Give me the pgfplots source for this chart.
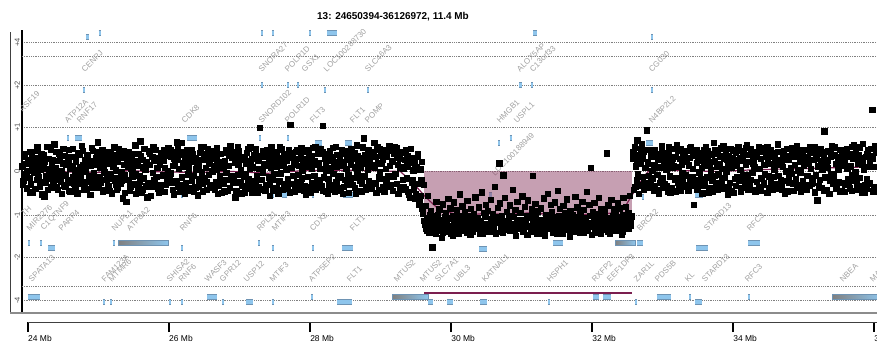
\documentclass[border=0pt]{standalone}
\usepackage{pgfplots}
\usepackage{pgfplotstable}
\pgfplotsset{compat=1.18}
\usepackage{fontspec}
\setmainfont{Liberation Sans}
\definecolor{genefill}{HTML}{8EC5EC}
\definecolor{geneedge}{HTML}{6E93B3}
\definecolor{lblgray}{HTML}{A0A0A0}
\definecolor{segline}{HTML}{7B1E4F}
\definecolor{cnvpink}{HTML}{8E4066}
\definecolor{gridgray}{HTML}{808080}
\pgfplotstableread{
x y
24.82 3.057
24.86 3.057
nan nan
25.00 3.148
25.03 3.148
nan nan
27.305 3.148
27.335 3.148
nan nan
27.46 3.148
27.49 3.148
nan nan
27.99 3.148
28.02 3.148
nan nan
28.24 3.148
28.38 3.148
nan nan
31.165 3.148
31.22 3.148
nan nan
32.84 3.057
32.865 3.057
nan nan
24.78 1.852
24.81 1.852
nan nan
27.305 1.966
27.335 1.966
nan nan
27.675 1.966
27.705 1.966
nan nan
27.815 1.966
27.845 1.966
nan nan
28.195 1.852
28.225 1.852
nan nan
28.81 1.852
28.84 1.852
nan nan
30.96 1.966
31.00 1.966
nan nan
31.135 1.966
31.165 1.966
nan nan
32.84 1.852
32.865 1.852
nan nan
24.555 0.761
24.585 0.761
nan nan
24.67 0.761
24.77 0.761
nan nan
26.255 0.761
26.40 0.761
nan nan
27.275 0.761
27.305 0.761
nan nan
27.675 0.761
27.705 0.761
nan nan
28.07 0.648
28.17 0.648
nan nan
28.495 0.648
28.595 0.648
nan nan
30.665 0.648
30.695 0.648
nan nan
30.83 0.761
30.87 0.761
nan nan
32.765 0.648
32.865 0.648
nan nan
24.44 -0.443
24.47 -0.443
nan nan
26.17 -0.534
26.20 -0.534
nan nan
27.275 -0.443
27.305 -0.443
nan nan
27.46 -0.534
27.49 -0.534
nan nan
27.60 -0.534
27.67 -0.534
nan nan
28.03 -0.534
28.06 -0.534
nan nan
28.47 -0.534
28.61 -0.534
nan nan
30.535 -0.534
30.575 -0.534
nan nan
32.71 -0.58
32.74 -0.58
nan nan
33.46 -0.534
33.575 -0.534
nan nan
24.00 -1.625
24.03 -1.625
nan nan
24.17 -1.625
24.20 -1.625
nan nan
24.285 -1.739
24.385 -1.739
nan nan
25.20 -1.625
25.24 -1.625
nan nan
26.17 -1.739
26.20 -1.739
nan nan
27.26 -1.625
27.29 -1.625
nan nan
27.46 -1.739
27.49 -1.739
nan nan
28.03 -1.739
28.06 -1.739
nan nan
28.455 -1.739
28.61 -1.739
nan nan
30.40 -1.76
30.51 -1.76
nan nan
31.45 -1.625
31.59 -1.625
nan nan
32.64 -1.625
32.725 -1.625
nan nan
33.475 -1.739
33.645 -1.739
nan nan
34.215 -1.625
34.385 -1.625
nan nan
24.00 -2.852
24.17 -2.852
nan nan
25.065 -2.966
25.095 -2.966
nan nan
25.165 -2.966
25.195 -2.966
nan nan
26.00 -2.966
26.03 -2.966
nan nan
26.17 -2.966
26.20 -2.966
nan nan
26.54 -2.852
26.68 -2.852
nan nan
26.75 -2.966
26.78 -2.966
nan nan
27.09 -2.966
27.19 -2.966
nan nan
27.46 -2.966
27.49 -2.966
nan nan
28.015 -2.852
28.04 -2.852
nan nan
28.385 -2.966
28.595 -2.966
nan nan
29.675 -2.966
29.745 -2.966
nan nan
29.945 -2.966
30.03 -2.966
nan nan
30.41 -2.966
30.51 -2.966
nan nan
31.375 -2.966
31.405 -2.966
nan nan
32.015 -2.852
32.10 -2.852
nan nan
32.155 -2.852
32.27 -2.852
nan nan
32.61 -2.966
32.64 -2.966
nan nan
32.92 -2.852
33.12 -2.852
nan nan
33.375 -2.852
33.405 -2.852
nan nan
33.46 -2.966
33.56 -2.966
nan nan
34.21 -2.852
34.24 -2.852
}\genes
\begin{document}
\begin{tikzpicture}[
  lbl/.style={font=\fontsize{8}{9}\selectfont, text=lblgray, rotate=45, anchor=south west, inner sep=0.4pt}]
\useasboundingbox (0,0) rectangle (877bp,352bp);
\node[font=\bfseries\fontsize{10}{12}\selectfont, anchor=base] at (393bp,332bp) {13: 24650394-36126972, 11.4 Mb};
\begin{axis}[
  at={(22bp,39bp)}, anchor=south west, scale only axis,
  width=855bp, height=283bp,
  xmin=23.915, xmax=36.04, ymin=-3.216, ymax=3.216,
  axis x line=none, axis y line=left,
  y axis line style={-, line width=1.5bp, black},
  ytick={-2.93,-1.955,-1,0,1,1.955,2.93},
  yticklabels={-4,-2,-1,0,+1,+2,+4},
  extra y ticks={-2.61,2.61}, extra y tick labels={},
  ymajorgrids, extra y tick style={grid=major},
  grid style={gridgray, line width=0.6bp, dash pattern=on 0.9bp off 0.9bp},
  major tick length=0pt,
  yticklabel style={rotate=90, anchor=south, font=\fontsize{7.5}{8}\selectfont, text=black!70, inner sep=2pt},
  unbounded coords=jump,
]
% gene bars
\addplot[geneedge, line width=5.2bp, mark=none] table {\genes};
\addplot[genefill, line width=3.6bp, mark=none] table {\genes};
\addplot[draw=geneedge, line width=0.5bp, left color=black!50, right color=genefill] coordinates {(25.277,-1.568)(25.986,-1.568)(25.986,-1.682)(25.277,-1.682)} --cycle;
\addplot[draw=geneedge, line width=0.5bp, left color=black!50, right color=genefill] coordinates {(32.326,-1.568)(32.61,-1.568)(32.61,-1.682)(32.326,-1.682)} --cycle;
\addplot[draw=geneedge, line width=0.5bp, left color=black!50, right color=genefill] coordinates {(29.163,-2.795)(29.674,-2.795)(29.674,-2.909)(29.163,-2.909)} --cycle;
\addplot[draw=geneedge, line width=0.5bp, left color=black!50, right color=genefill] coordinates {(35.404,-2.795)(36.1,-2.795)(36.1,-2.909)(35.404,-2.909)} --cycle;
% CNV segment marker
\addplot[segline, line width=1.4bp, mark=none] coordinates {(29.617,-2.761)(32.567,-2.761)};
% gene labels
\node[lbl] at (axis cs:24.809,2.239) {CENPJ};
\node[lbl] at (axis cs:27.319,2.239) {SNORA27};
\node[lbl] at (axis cs:27.688,2.239) {POLR1D};
\node[lbl] at (axis cs:27.929,2.239) {GSX1};
\node[lbl] at (axis cs:28.241,2.239) {LOC100288730};
\node[lbl] at (axis cs:28.823,2.239) {SLC46A3};
\node[lbl] at (axis cs:30.979,2.239) {ALOX5AP};
\node[lbl] at (axis cs:31.163,2.239) {C13orf33};
\node[lbl] at (axis cs:32.851,2.239) {CG030};
\node[lbl] at (axis cs:23.77,1.08) {TNFRSF19};
\node[lbl] at (axis cs:24.567,1.08) {ATP12A};
\node[lbl] at (axis cs:24.738,1.08) {RNF17};
\node[lbl] at (axis cs:26.227,1.08) {CDK8};
\node[lbl] at (axis cs:27.319,1.08) {SNORD102};
\node[lbl] at (axis cs:27.688,1.08) {POLR1D};
\node[lbl] at (axis cs:28.043,1.08) {FLT3};
\node[lbl] at (axis cs:28.61,1.08) {FLT1};
\node[lbl] at (axis cs:28.823,1.08) {POMP};
\node[lbl] at (axis cs:30.695,1.08) {HMGB1};
\node[lbl] at (axis cs:30.936,1.08) {USPL1};
\node[lbl] at (axis cs:32.851,1.08) {N4BP2L2};
\node[lbl] at (axis cs:30.624,-0.125) {LOC100188949};
\node[lbl] at (axis cs:23.95,-1.05) {TH};
\node[lbl] at (axis cs:24.028,-1.375) {MIR2276};
\node[lbl] at (axis cs:24.241,-1.375) {C1QTNF9};
\node[lbl] at (axis cs:24.482,-1.375) {PARP4};
\node[lbl] at (axis cs:25.234,-1.375) {NUPL1};
\node[lbl] at (axis cs:25.447,-1.375) {ATP8A2};
\node[lbl] at (axis cs:26.199,-1.375) {RNF6};
\node[lbl] at (axis cs:27.291,-1.375) {RPL21};
\node[lbl] at (axis cs:27.504,-1.375) {MTIF3};
\node[lbl] at (axis cs:28.043,-1.375) {CDX2};
\node[lbl] at (axis cs:28.61,-1.375) {FLT1};
\node[lbl] at (axis cs:32.681,-1.375) {BRCA2};
\node[lbl] at (axis cs:33.631,-1.375) {STARD13};
\node[lbl] at (axis cs:34.241,-1.375) {RFC3};
\node[lbl] at (axis cs:24.057,-2.534) {SPATA13};
\node[lbl] at (axis cs:25.092,-2.534) {FAM123A};
\node[lbl] at (axis cs:25.191,-2.534) {MTMR6};
\node[lbl] at (axis cs:26.014,-2.534) {SHISA2};
\node[lbl] at (axis cs:26.184,-2.534) {RNF6};
\node[lbl] at (axis cs:26.553,-2.534) {WASF3};
\node[lbl] at (axis cs:26.766,-2.534) {GPR12};
\node[lbl] at (axis cs:27.106,-2.534) {USP12};
\node[lbl] at (axis cs:27.475,-2.534) {MTIF3};
\node[lbl] at (axis cs:28.028,-2.534) {ATP5EP2};
\node[lbl] at (axis cs:28.567,-2.534) {FLT1};
\node[lbl] at (axis cs:29.234,-2.534) {MTUS2};
\node[lbl] at (axis cs:29.603,-2.534) {MTUS2};
\node[lbl] at (axis cs:29.816,-2.534) {SLC7A1};
\node[lbl] at (axis cs:30.085,-2.534) {UBL3};
\node[lbl] at (axis cs:30.482,-2.534) {KATNAL1};
\node[lbl] at (axis cs:31.404,-2.534) {HSPH1};
\node[lbl] at (axis cs:32.043,-2.534) {RXFP2};
\node[lbl] at (axis cs:32.255,-2.534) {EEF1DP3};
\node[lbl] at (axis cs:32.638,-2.534) {ZAR1L};
\node[lbl] at (axis cs:32.936,-2.534) {PDS5B};
\node[lbl] at (axis cs:33.362,-2.534) {KL};
\node[lbl] at (axis cs:33.603,-2.534) {STARD13};
\node[lbl] at (axis cs:34.213,-2.534) {RFC3};
\node[lbl] at (axis cs:35.56,-2.534) {NBEA};
\node[lbl] at (axis cs:35.986,-2.534) {MAB21L1};
% probes
\addplot[only marks, mark=square*, mark size=2.7bp, black] coordinates {
(23.92,0.12)(23.93,-0.21)(23.94,0.34)(23.96,-0.05)(23.97,0.18)(23.98,-0.38)(23.99,0.02)(24.01,0.27)(24.02,-0.14)(24.03,0.45)(24.04,-0.29)(24.06,0.08)
(24.07,-0.47)(24.08,0.21)(24.09,-0.02)(24.11,0.31)(24.12,-0.18)(24.13,0.55)(24.14,-0.09)(24.16,0.14)(24.17,-0.33)(24.18,0.04)(24.19,0.39)(24.21,-0.24)
(24.22,0.11)(24.23,-0.56)(24.24,0.23)(24.26,-0.11)(24.27,0.06)(24.28,-0.41)(24.29,0.29)(24.31,-0.16)(24.32,0.49)(24.33,-0.07)(24.34,0.17)(24.36,-0.27)
(24.37,0.62)(24.38,-0.03)(24.39,0.09)(24.41,-0.36)(24.42,0.25)(24.43,-0.12)(24.44,0.41)(24.46,-0.22)(24.47,0.01)(24.48,-0.51)(24.49,0.19)(24.51,-0.31)
(24.52,0.36)(24.53,-0.08)(24.54,0.15)(24.56,-0.19)(24.57,0.28)(24.58,-0.44)(24.59,0.07)(24.61,0.33)(24.62,-0.26)(24.63,0.52)(24.64,-0.13)(24.66,0.03)
(24.67,-0.35)(24.68,0.22)(24.69,-0.06)(24.71,0.43)(24.72,-0.17)(24.73,0.10)(24.74,-0.28)(24.76,0.58)(24.77,-0.01)(24.78,0.16)(24.79,-0.42)(24.81,0.26)
(24.82,0.05)(24.83,-0.23)(24.84,0.38)(24.86,-0.10)(24.87,0.20)(24.88,-0.53)(24.89,0.13)(24.91,-0.30)(24.92,0.47)(24.93,-0.04)(24.94,0.24)(24.96,-0.15)
(24.97,0.30)(24.98,-0.37)(24.99,0.67)(25.01,-0.12)(25.02,0.08)(25.03,-0.25)(25.04,0.35)(25.06,-0.45)(25.07,0.14)(25.08,-0.02)(25.09,0.28)(25.11,-0.19)
(25.12,-0.09)(25.13,0.44)(25.14,-0.32)(25.16,0.18)(25.17,-0.06)(25.18,0.26)(25.19,-0.49)(25.21,0.11)(25.22,0.37)(25.23,-0.21)(25.24,0.03)(25.26,-0.40)
(25.27,0.23)(25.28,-0.14)(25.29,0.51)(25.31,-0.27)(25.32,0.00)(25.33,0.32)(25.34,-0.61)(25.36,0.16)(25.37,-0.08)(25.38,0.41)(25.39,-0.69)(25.41,0.12)
(25.42,-0.18)(25.43,0.29)(25.44,-0.43)(25.46,0.07)(25.47,0.35)(25.48,-0.11)(25.49,0.19)(25.51,-0.29)(25.52,0.60)(25.53,-0.05)(25.54,0.13)(25.56,-0.38)
(25.57,0.40)(25.58,-0.22)(25.59,0.69)(25.61,-0.48)(25.62,0.27)(25.63,0.10)(25.64,-0.15)(25.66,0.04)(25.67,-0.33)(25.68,0.21)(25.69,-0.58)(25.71,0.46)
(25.72,-0.26)(25.73,0.15)(25.74,-0.55)(25.76,0.34)(25.77,-0.03)(25.78,0.24)(25.79,-0.19)(25.81,0.50)(25.82,-0.12)(25.83,0.08)(25.84,-0.39)(25.86,0.30)
(25.87,0.17)(25.88,-0.31)(25.89,0.42)(25.91,-0.08)(25.92,0.26)(25.93,-0.46)(25.94,0.09)(25.96,0.36)(25.97,-0.20)(25.98,0.02)(25.99,0.53)(26.01,-0.16)
(26.02,-0.04)(26.03,0.33)(26.04,-0.24)(26.06,0.13)(26.07,-0.52)(26.08,0.21)(26.09,0.45)(26.11,0.67)(26.12,0.28)(26.13,-0.35)(26.14,0.06)(26.16,0.38)
(26.17,0.65)(26.18,-0.13)(26.19,0.20)(26.21,-0.40)(26.22,0.11)(26.23,0.31)(26.24,-0.27)(26.26,0.48)(26.27,-0.06)(26.28,0.18)(26.29,-0.44)(26.31,0.25)
(26.32,-0.21)(26.33,0.39)(26.34,-0.09)(26.36,0.23)(26.37,-0.36)(26.38,0.05)(26.39,-0.34)(26.41,-0.54)(26.42,0.14)(26.43,-0.17)(26.44,0.43)(26.46,-0.02)
(26.47,0.27)(26.48,-0.28)(26.49,0.56)(26.51,-0.15)(26.52,0.09)(26.53,-0.42)(26.54,0.34)(26.56,-0.07)(26.57,0.19)(26.58,-0.30)(26.59,0.47)(26.61,0.01)
(26.62,-0.33)(26.63,0.12)(26.64,0.37)(26.66,-0.23)(26.67,0.04)(26.68,0.28)(26.69,-0.50)(26.71,0.16)(26.72,-0.11)(26.73,0.40)(26.74,-0.19)(26.76,0.22)
(26.77,0.08)(26.78,-0.45)(26.79,0.25)(26.81,-0.03)(26.82,0.44)(26.83,-0.18)(26.84,0.13)(26.86,-0.37)(26.87,0.59)(26.88,-0.09)(26.89,0.32)(26.91,-0.26)
(26.92,-0.14)(26.93,0.20)(26.94,-0.58)(26.96,0.35)(26.97,-0.07)(26.98,0.15)(26.99,0.46)(27.01,-0.24)(27.02,0.03)(27.03,-0.32)(27.04,0.27)(27.06,-0.12)
(27.07,0.31)(27.08,-0.06)(27.09,0.18)(27.11,-0.39)(27.12,0.52)(27.13,-0.16)(27.14,0.07)(27.16,0.24)(27.17,-0.47)(27.18,0.10)(27.19,-0.21)(27.21,0.38)
(27.22,-0.25)(27.23,0.43)(27.24,-0.11)(27.26,0.26)(27.27,-0.34)(27.28,0.06)(27.29,0.99)(27.31,-0.19)(27.32,0.35)(27.33,-0.02)(27.34,0.17)(27.36,-0.43)
(27.37,0.14)(27.38,-0.30)(27.39,0.48)(27.41,-0.13)(27.42,0.22)(27.43,-0.55)(27.44,0.09)(27.46,0.40)(27.47,-0.18)(27.48,0.29)(27.49,-0.05)(27.51,0.33)
(27.52,-0.37)(27.53,0.11)(27.54,0.27)(27.56,-0.22)(27.57,0.57)(27.58,-0.04)(27.59,0.19)(27.61,-0.41)(27.62,0.13)(27.63,0.36)(27.64,-0.28)(27.66,0.05)
(27.67,0.24)(27.68,-0.16)(27.69,0.32)(27.71,-0.48)(27.72,1.06)(27.73,0.08)(27.74,0.42)(27.76,-0.10)(27.77,0.21)(27.78,-0.35)(27.79,0.15)(27.81,-0.23)
(27.82,0.50)(27.83,-0.07)(27.84,0.13)(27.86,-0.29)(27.87,0.37)(27.88,-0.15)(27.89,0.03)(27.91,-0.44)(27.92,0.28)(27.93,0.18)(27.94,-0.52)(27.96,0.11)
(27.97,-0.12)(27.98,0.34)(27.99,-0.36)(28.01,0.20)(28.02,0.06)(28.03,-0.26)(28.04,0.54)(28.06,-0.09)(28.07,0.25)(28.08,-0.40)(28.09,0.16)(28.11,0.41)
(28.12,0.19)(28.13,-0.20)(28.14,0.07)(28.16,-0.33)(28.17,0.45)(28.18,1.04)(28.19,-0.13)(28.21,0.29)(28.22,-0.46)(28.23,0.02)(28.24,0.38)(28.26,-0.17)
(28.27,-0.31)(28.28,0.26)(28.29,0.09)(28.31,-0.42)(28.32,0.33)(28.33,-0.05)(28.34,0.21)(28.36,0.56)(28.37,-0.24)(28.38,0.12)(28.39,-0.38)(28.41,0.17)
(28.42,0.35)(28.43,-0.10)(28.44,0.22)(28.46,-0.50)(28.47,0.14)(28.48,0.40)(28.49,-0.19)(28.51,0.06)(28.52,-0.29)(28.53,0.47)(28.54,-0.08)(28.56,0.28)
(28.57,-0.23)(28.58,0.16)(28.59,0.44)(28.61,-0.14)(28.62,0.29)(28.63,-0.37)(28.64,0.10)(28.66,0.60)(28.67,-0.05)(28.68,0.23)(28.69,-0.45)(28.71,0.13)
(28.72,0.08)(28.73,-0.27)(28.74,0.31)(28.76,0.76)(28.77,-0.11)(28.78,0.19)(28.79,-0.40)(28.81,0.38)(28.82,0.04)(28.83,-0.21)(28.84,0.26)(28.86,-0.33)
(28.87,0.42)(28.88,-0.25)(28.89,0.15)(28.91,0.65)(28.92,0.09)(28.93,0.33)(28.94,-0.48)(28.96,0.20)(28.97,-0.13)(28.98,0.51)(28.99,-0.02)(29.01,0.18)
(29.02,-0.17)(29.03,0.28)(29.04,-0.35)(29.06,0.46)(29.07,0.07)(29.08,-0.22)(29.09,0.35)(29.11,-0.09)(29.12,0.58)(29.13,0.13)(29.14,-0.30)(29.16,0.22)
(29.17,0.25)(29.18,-0.12)(29.19,0.40)(29.21,-0.05)(29.22,0.53)(29.23,-0.28)(29.24,0.16)(29.26,0.32)(29.27,-0.41)(29.28,0.10)(29.29,0.44)(29.31,-0.18)
(29.32,0.06)(29.33,-0.34)(29.34,0.27)(29.36,0.49)(29.37,-0.15)(29.38,0.12)(29.39,-0.46)(29.41,0.20)(29.42,-0.60)(29.43,0.31)(29.44,-0.25)(29.46,0.03)
(29.47,-0.40)(29.48,0.18)(29.49,-0.62)(29.51,0.10)(29.52,-0.28)(29.53,0.35)(29.54,-0.75)(29.56,0.05)(29.57,-0.55)(29.58,0.22)(29.59,-0.85)(29.61,-0.30)
(29.62,-1.12)(29.63,-0.78)(29.64,-1.30)(29.66,-1.05)(29.67,-0.55)(29.68,-1.22)(29.69,-1.38)(29.71,-0.90)(29.72,-1.15)(29.73,-1.72)(29.74,-1.02)(29.76,-1.27)
(29.77,-1.18)(29.78,-1.40)(29.79,-0.68)(29.81,-1.08)(29.82,-1.25)(29.83,-0.86)(29.84,-1.33)(29.86,-1.10)(29.87,-1.50)(29.88,-0.74)(29.89,-1.20)(29.91,-1.04)
(29.92,-0.95)(29.93,-1.28)(29.94,-1.14)(29.96,-0.62)(29.97,-1.36)(29.98,-1.06)(29.99,-0.83)(30.01,-1.24)(30.02,-1.45)(30.03,-1.00)(30.04,-0.70)(30.06,-1.19)
(30.07,-1.31)(30.08,-0.88)(30.09,-1.09)(30.11,-1.42)(30.12,-0.52)(30.13,-1.17)(30.14,-1.26)(30.16,-0.79)(30.17,-1.03)(30.18,-1.35)(30.19,-0.92)(30.21,-1.21)
(30.22,-1.13)(30.23,-0.66)(30.24,-1.29)(30.26,-1.01)(30.27,-1.44)(30.28,-0.85)(30.29,-1.16)(30.31,-1.37)(30.32,-0.97)(30.33,-1.23)(30.34,-0.58)(30.36,-1.07)
(30.37,-1.26)(30.38,-1.05)(30.39,-0.81)(30.41,-1.33)(30.42,-1.12)(30.43,-0.47)(30.44,-1.40)(30.46,-0.93)(30.47,-1.19)(30.48,-1.02)(30.49,-0.75)(30.51,-1.30)
(30.52,-0.89)(30.53,-1.21)(30.54,-1.36)(30.56,-0.64)(30.57,-1.08)(30.58,-1.28)(30.59,-0.96)(30.61,-1.15)(30.62,-0.35)(30.63,-1.41)(30.64,-1.04)(30.66,-0.82)
(30.67,-1.17)(30.68,0.19)(30.69,-0.72)(30.71,-1.25)(30.72,-1.00)(30.73,-1.39)(30.74,-0.08)(30.76,-0.60)(30.77,-1.13)(30.78,-1.32)(30.79,-0.91)(30.81,-1.22)
(30.82,-1.06)(30.83,-0.77)(30.84,-1.34)(30.86,-1.18)(30.87,-0.42)(30.88,-1.27)(30.89,-1.03)(30.91,-0.87)(30.92,-1.46)(30.93,-1.11)(30.94,-0.69)(30.96,-1.24)
(30.97,-1.30)(30.98,-0.94)(30.99,-1.09)(31.01,-0.56)(31.02,-1.37)(31.03,-1.20)(31.04,-0.80)(31.06,-1.14)(31.07,-1.02)(31.08,-1.43)(31.09,-0.65)(31.11,-1.26)
(31.12,-1.01)(31.13,-1.23)(31.14,-0.86)(31.16,-0.10)(31.17,-1.32)(31.18,-1.07)(31.19,-0.73)(31.21,-1.19)(31.22,-1.40)(31.23,-0.90)(31.24,-1.28)(31.26,-1.12)
(31.27,-0.83)(31.28,-1.35)(31.29,-1.10)(31.31,-0.61)(31.32,-1.24)(31.33,-1.45)(31.34,-0.98)(31.36,-1.16)(31.37,-0.50)(31.38,-1.29)(31.39,-1.05)(31.41,-0.76)
(31.42,-1.20)(31.43,-0.92)(31.44,-1.38)(31.46,-1.04)(31.47,-0.70)(31.48,-1.27)(31.49,-1.13)(31.51,-0.44)(31.52,-1.33)(31.53,-1.00)(31.54,-0.85)(31.56,-1.22)
(31.57,-1.09)(31.58,-1.42)(31.59,-0.78)(31.61,-1.18)(31.62,-0.95)(31.63,-1.31)(31.64,-0.63)(31.66,-1.06)(31.67,-1.25)(31.68,-1.48)(31.69,-0.89)(31.71,-1.15)
(31.72,-0.98)(31.73,-1.26)(31.74,-1.11)(31.76,-0.57)(31.77,-1.36)(31.78,-1.03)(31.79,-0.81)(31.81,-1.21)(31.82,-1.39)(31.83,-0.93)(31.84,-1.14)(31.86,-0.68)
(31.87,-1.24)(31.88,-0.87)(31.89,-1.06)(31.91,-1.34)(31.92,-0.46)(31.93,-1.17)(31.94,-1.29)(31.96,-0.75)(31.97,-1.01)(31.98,0.08)(31.99,-1.43)(32.01,-0.91)
(32.02,-1.15)(32.03,-0.71)(32.04,-1.32)(32.06,-1.08)(32.07,-0.96)(32.08,-1.25)(32.09,-0.59)(32.11,-1.12)(32.12,-1.40)(32.13,-0.84)(32.14,-1.19)(32.16,-1.03)
(32.17,-0.90)(32.18,-1.28)(32.19,-1.14)(32.21,0.42)(32.22,-1.37)(32.23,-0.77)(32.24,-1.05)(32.26,-1.23)(32.27,-0.64)(32.28,-1.31)(32.29,-1.00)(32.31,-0.86)
(32.32,-1.21)(32.33,-0.95)(32.34,-1.35)(32.36,-0.72)(32.37,-1.10)(32.38,-1.27)(32.39,-0.83)(32.41,-1.16)(32.42,-1.44)(32.43,-0.99)(32.44,-0.60)(32.46,-1.24)
(32.47,-1.07)(32.48,-0.80)(32.49,-1.30)(32.51,-0.93)(32.52,-1.18)(32.53,-0.55)(32.54,-1.22)(32.56,-1.02)
(32.58,0.30)(32.59,-0.42)(32.60,0.55)(32.62,0.12)(32.63,-0.20)(32.64,0.71)(32.65,-0.05)(32.67,0.38)(32.68,-0.31)(32.69,0.18)(32.70,0.63)(32.72,-0.12)
(32.73,0.45)(32.74,-0.26)(32.75,0.08)(32.77,0.94)(32.78,-0.37)(32.79,0.22)(32.80,-0.09)(32.82,0.49)(32.83,-0.18)(32.84,0.33)(32.85,0.02)(32.87,-0.44)
(32.88,0.15)(32.89,-0.33)(32.90,0.40)(32.92,-0.07)(32.93,0.27)(32.94,-0.51)(32.95,0.10)(32.97,0.36)(32.98,-0.22)(32.99,0.58)(33.00,-0.14)(33.02,0.21)
(33.03,-0.29)(33.04,0.32)(33.05,0.05)(33.07,-0.46)(33.08,0.19)(33.09,0.44)(33.10,-0.11)(33.12,0.25)(33.13,-0.38)(33.14,0.09)(33.15,0.52)(33.17,-0.19)
(33.18,0.34)(33.19,-0.15)(33.20,0.60)(33.22,-0.24)(33.23,0.11)(33.24,0.29)(33.25,-0.43)(33.27,0.16)(33.28,-0.04)(33.29,0.41)(33.30,-0.30)(33.32,0.23)
(33.33,-0.08)(33.34,0.47)(33.35,-0.35)(33.37,0.14)(33.38,0.31)(33.39,-0.20)(33.40,0.56)(33.42,-0.12)(33.43,0.06)(33.44,-0.76)(33.45,0.37)(33.47,-0.27)
(33.48,0.20)(33.49,-0.40)(33.50,0.26)(33.52,-0.02)(33.53,0.43)(33.54,-0.16)(33.55,0.09)(33.57,-0.31)(33.58,0.50)(33.59,0.13)(33.60,-0.24)(33.62,0.35)
(33.63,-0.13)(33.64,0.28)(33.65,-0.47)(33.67,0.18)(33.68,0.03)(33.69,0.39)(33.70,-0.21)(33.72,0.65)(33.73,-0.09)(33.74,0.24)(33.75,-0.36)(33.77,0.11)
(33.78,0.42)(33.79,-0.06)(33.80,0.17)(33.82,-0.28)(33.83,0.53)(33.84,0.07)(33.85,-0.39)(33.87,0.30)(33.88,-0.14)(33.89,0.46)(33.90,-0.01)(33.92,-0.53)
(33.93,0.12)(33.94,0.36)(33.95,-0.25)(33.97,0.08)(33.98,-0.44)(33.99,0.21)(34.00,0.48)(34.02,-0.17)(34.03,0.27)(34.04,-0.32)(34.05,0.14)(34.07,0.57)
(34.08,-0.20)(34.09,0.31)(34.10,0.04)(34.12,-0.37)(34.13,0.25)(34.14,-0.10)(34.15,0.44)(34.17,-0.29)(34.18,0.16)(34.19,0.61)(34.20,-0.07)(34.22,0.22)
(34.23,0.38)(34.24,-0.18)(34.25,0.51)(34.27,-0.03)(34.28,0.19)(34.29,-0.41)(34.30,0.10)(34.32,0.33)(34.33,-0.23)(34.34,0.06)(34.35,0.45)(34.37,-0.34)
(34.38,0.07)(34.39,0.29)(34.40,-0.15)(34.42,0.54)(34.43,-0.30)(34.44,0.15)(34.45,-0.06)(34.47,0.40)(34.48,-0.48)(34.49,0.23)(34.50,-0.11)(34.52,0.35)
(34.53,-0.26)(34.54,0.18)(34.55,0.43)(34.57,-0.12)(34.58,0.05)(34.59,0.32)(34.60,-0.38)(34.62,0.20)(34.63,0.62)(34.64,-0.09)(34.65,0.27)(34.67,-0.19)
(34.68,0.24)(34.69,-0.33)(34.70,0.11)(34.72,0.47)(34.73,-0.21)(34.74,0.36)(34.75,0.01)(34.77,-0.45)(34.78,0.28)(34.79,-0.14)(34.80,0.52)(34.82,0.09)
(34.83,-0.05)(34.84,0.41)(34.85,-0.27)(34.87,0.16)(34.88,0.34)(34.89,-0.16)(34.90,0.58)(34.92,0.03)(34.93,-0.36)(34.94,0.22)(34.95,-0.02)(34.97,0.30)
(34.98,0.39)(34.99,-0.22)(35.00,0.13)(35.02,-0.40)(35.03,0.26)(35.04,0.49)(35.05,-0.10)(35.07,0.19)(35.08,-0.31)(35.09,0.44)(35.10,0.06)(35.12,-0.24)
(35.13,-0.15)(35.14,0.27)(35.15,0.55)(35.17,-0.08)(35.18,0.35)(35.19,-0.65)(35.20,0.12)(35.22,0.40)(35.23,-0.19)(35.24,0.24)(35.25,-0.37)(35.27,0.17)
(35.28,0.31)(35.29,0.92)(35.30,-0.13)(35.32,0.23)(35.33,-0.42)(35.34,0.09)(35.35,0.46)(35.37,-0.20)(35.38,0.33)(35.39,-0.06)(35.40,0.59)(35.42,-0.28)
(35.43,-0.11)(35.44,0.37)(35.45,0.18)(35.47,-0.35)(35.48,0.28)(35.49,0.04)(35.50,-0.23)(35.52,0.50)(35.53,0.14)(35.54,-0.44)(35.55,0.26)(35.57,0.42)
(35.58,0.21)(35.59,-0.29)(35.60,0.45)(35.62,0.07)(35.63,-0.17)(35.64,0.34)(35.65,-0.38)(35.67,0.12)(35.68,0.56)(35.69,-0.08)(35.70,0.30)(35.72,-0.21)
(35.73,-0.02)(35.74,0.48)(35.75,-0.24)(35.77,0.19)(35.78,0.38)(35.79,-0.14)(35.80,0.27)(35.82,-0.47)(35.83,0.15)(35.84,0.63)(35.85,0.05)(35.87,-0.30)
(35.88,0.33)(35.89,-0.16)(35.90,0.40)(35.92,0.11)(35.93,-0.26)(35.94,0.22)(35.95,0.52)(35.97,1.40)(35.98,0.29)(35.99,-0.35)(36.00,0.11)(36.02,0.44)
};
\addplot[only marks, mark=square*, mark size=2.7bp, black] coordinates {
(23.925,-0.30)(23.95,0.41)(23.975,-0.08)(24.00,0.22)(24.025,-0.47)(24.05,0.35)
(24.075,0.16)(24.10,-0.39)(24.125,0.48)(24.15,-0.12)(24.175,0.28)(24.20,-0.52)
(24.225,0.37)(24.25,-0.25)(24.275,0.57)(24.30,0.04)(24.325,-0.36)(24.35,0.26)
(24.375,-0.19)(24.40,0.45)(24.425,-0.42)(24.45,0.30)(24.475,-0.06)(24.50,0.52)
(24.525,-0.33)(24.55,0.20)(24.575,0.50)(24.60,-0.45)(24.625,0.12)(24.65,-0.27)
(24.675,0.31)(24.70,-0.49)(24.725,0.39)(24.75,-0.14)(24.775,0.47)(24.80,-0.32)
(24.825,-0.40)(24.85,0.29)(24.875,-0.18)(24.90,0.54)(24.925,-0.36)(24.95,0.17)
(24.975,0.44)(25.00,-0.28)(25.025,0.19)(25.05,0.50)(25.075,-0.41)(25.10,0.33)
(25.125,0.27)(25.15,-0.44)(25.175,0.40)(25.20,-0.15)(25.225,0.55)(25.25,-0.30)
(25.275,-0.37)(25.30,0.38)(25.325,-0.20)(25.35,0.46)(25.375,-0.48)(25.40,0.28)
(25.425,0.45)(25.45,-0.33)(25.475,-0.02)(25.50,0.41)(25.525,-0.50)(25.55,0.23)
(25.575,-0.10)(25.60,0.36)(25.625,-0.40)(25.65,0.52)(25.675,0.15)(25.70,-0.30)
(25.725,0.41)(25.75,-0.35)(25.775,0.55)(25.80,-0.27)(25.825,0.32)(25.85,-0.47)
(25.875,-0.42)(25.90,0.24)(25.925,0.49)(25.95,-0.30)(25.975,0.39)(26.00,-0.06)
(26.025,0.48)(26.05,-0.41)(26.075,0.30)(26.10,-0.22)(26.125,0.53)(26.15,-0.46)
(26.175,-0.31)(26.20,0.44)(26.225,-0.50)(26.25,0.35)(26.275,0.03)(26.30,-0.38)
(26.325,0.50)(26.35,-0.46)(26.375,0.32)(26.40,0.18)(26.425,-0.29)(26.45,0.55)
(26.475,-0.45)(26.50,0.40)(26.525,-0.23)(26.55,0.51)(26.575,-0.37)(26.60,0.30)
(26.625,0.46)(26.65,-0.40)(26.675,0.53)(26.70,-0.31)(26.725,0.21)(26.75,-0.48)
(26.775,-0.28)(26.80,0.50)(26.825,-0.44)(26.85,0.36)(26.875,-0.15)(26.90,0.45)
(26.925,0.40)(26.95,-0.43)(26.975,0.56)(27.00,0.29)(27.025,-0.49)(27.05,0.34)
(27.075,-0.47)(27.10,0.43)(27.125,-0.27)(27.15,0.55)(27.175,0.29)(27.20,-0.36)
(27.225,0.52)(27.25,-0.48)(27.275,0.31)(27.30,-0.40)(27.325,0.47)(27.35,0.14)
(27.375,-0.42)(27.40,0.35)(27.425,-0.29)(27.45,0.55)(27.475,-0.44)(27.50,0.20)
(27.525,0.44)(27.55,-0.49)(27.575,0.30)(27.60,0.51)(27.625,-0.34)(27.65,0.40)
(27.675,-0.38)(27.70,0.50)(27.725,-0.28)(27.75,0.33)(27.775,-0.46)(27.80,0.45)
(27.825,0.29)(27.85,-0.40)(27.875,0.53)(27.90,0.22)(27.925,-0.33)(27.95,0.46)
(27.975,0.48)(28.00,-0.47)(28.025,0.36)(28.05,-0.31)(28.075,0.55)(28.10,-0.22)
(28.125,-0.37)(28.15,0.52)(28.175,-0.44)(28.20,0.41)(28.225,0.15)(28.25,-0.50)
(28.275,0.47)(28.30,-0.36)(28.325,0.54)(28.35,-0.45)(28.375,0.38)(28.40,-0.13)
(28.425,-0.44)(28.45,0.50)(28.475,-0.35)(28.50,0.43)(28.525,0.27)(28.55,-0.48)
(28.575,0.51)(28.60,-0.30)(28.625,0.42)(28.65,-0.49)(28.675,0.35)(28.70,-0.20)
(28.725,-0.45)(28.75,0.55)(28.775,0.37)(28.80,-0.34)(28.825,0.50)(28.85,0.12)
(28.875,-0.39)(28.90,0.44)(28.925,-0.28)(28.95,0.57)(28.975,-0.42)(29.00,0.36)
(29.025,0.50)(29.05,-0.46)(29.075,0.40)(29.10,-0.33)(29.125,0.48)(29.15,-0.12)
(29.175,-0.43)(29.20,0.55)(29.225,0.38)(29.25,-0.50)(29.275,0.29)(29.30,-0.35)
(29.325,0.45)(29.35,-0.40)(29.375,0.36)(29.40,-0.52)(29.425,0.52)(29.45,-0.18)
(29.475,0.30)(29.50,-0.50)(29.525,0.40)(29.55,-0.70)(29.575,-0.20)(29.60,-0.95)
(29.625,-1.20)(29.66,-1.35)(29.70,-0.98)(29.735,-1.10)(29.775,-1.30)(29.81,-0.99)(29.85,-1.22)(29.885,-1.38)
(29.925,-1.08)(29.96,-1.25)(30.00,-1.40)(30.035,-1.12)(30.075,-1.22)(30.11,-1.02)(30.15,-1.33)(30.185,-1.15)
(30.225,-1.38)(30.26,-1.18)(30.30,-1.05)(30.335,-1.30)(30.375,-1.10)(30.41,-1.42)(30.45,-1.20)(30.485,-0.99)
(30.525,-1.32)(30.56,-1.12)(30.60,-1.25)(30.635,-1.40)(30.675,-1.05)(30.71,-1.36)(30.75,-1.18)(30.785,-1.28)
(30.825,-1.24)(30.86,-1.00)(30.90,-1.33)(30.935,-1.16)(30.975,-1.14)(31.01,-1.30)(31.05,-1.22)(31.085,-1.04)
(31.125,-1.36)(31.16,-1.17)(31.20,-1.02)(31.235,-1.34)(31.275,-1.19)(31.31,-1.40)(31.35,-1.27)(31.385,-1.08)
(31.425,-1.03)(31.46,-1.23)(31.50,-1.41)(31.535,-1.14)(31.575,-1.29)(31.61,-1.06)(31.65,-1.20)(31.685,-1.36)
(31.725,-1.16)(31.76,-1.33)(31.80,-1.07)(31.835,-1.27)(31.875,-1.39)(31.91,-1.12)(31.95,-1.24)(31.985,-1.00)
(32.025,-1.25)(32.06,-1.38)(32.10,-1.10)(32.135,-1.31)(32.175,-1.06)(32.21,-1.21)(32.25,-1.42)(32.285,-1.15)
(32.325,-1.32)(32.36,-1.03)(32.40,-1.26)(32.435,-1.37)(32.475,-1.13)(32.51,-1.29)(32.55,-1.08)
(32.585,0.45)(32.61,-0.35)(32.635,0.25)(32.66,-0.50)(32.685,0.52)(32.71,0.30)
(32.735,-0.40)(32.76,0.50)(32.785,0.18)(32.81,-0.30)(32.835,0.42)(32.86,-0.15)
(32.885,0.50)(32.91,-0.42)(32.935,0.34)(32.96,-0.25)(32.985,0.46)(33.01,-0.36)
(33.035,0.43)(33.06,-0.33)(33.085,0.55)(33.11,-0.47)(33.135,0.30)(33.16,0.12)
(33.185,-0.45)(33.21,0.47)(33.235,-0.30)(33.26,0.52)(33.285,-0.20)(33.31,0.38)
(33.335,0.30)(33.36,-0.44)(33.385,0.53)(33.41,-0.32)(33.435,0.44)(33.46,-0.18)
(33.485,0.48)(33.51,-0.30)(33.535,0.37)(33.56,-0.49)(33.585,0.28)(33.61,0.55)
(33.635,0.46)(33.66,-0.38)(33.685,0.22)(33.71,-0.45)(33.735,0.50)(33.76,-0.26)
(33.785,-0.42)(33.81,0.35)(33.835,-0.20)(33.86,0.58)(33.885,-0.34)(33.91,0.27)
(33.935,-0.38)(33.96,0.52)(33.985,0.30)(34.01,-0.48)(34.035,0.43)(34.06,-0.12)
(34.085,0.47)(34.11,-0.45)(34.135,0.36)(34.16,-0.22)(34.185,0.54)(34.21,-0.40)
(34.235,-0.31)(34.26,0.45)(34.285,0.25)(34.31,-0.46)(34.335,0.39)(34.36,0.57)
(34.385,-0.44)(34.41,0.46)(34.435,-0.25)(34.46,0.33)(34.485,0.55)(34.51,-0.38)
(34.535,0.50)(34.56,-0.41)(34.585,0.30)(34.61,-0.28)(34.635,0.45)(34.66,0.15)
(34.685,-0.40)(34.71,0.38)(34.735,-0.49)(34.76,0.52)(34.785,-0.26)(34.81,0.33)
(34.835,0.53)(34.86,-0.44)(34.885,0.41)(34.91,-0.30)(34.935,0.48)(34.96,-0.45)
(34.985,-0.36)(35.01,0.50)(35.035,-0.42)(35.06,0.34)(35.085,0.56)(35.11,-0.28)
(35.135,0.46)(35.16,-0.47)(35.185,0.30)(35.21,-0.33)(35.235,0.52)(35.26,0.05)
(35.285,-0.43)(35.31,0.45)(35.335,0.26)(35.36,-0.50)(35.385,0.40)(35.41,-0.18)
(35.435,0.55)(35.46,-0.38)(35.485,0.34)(35.51,-0.45)(35.535,0.47)(35.56,-0.25)
(35.585,-0.46)(35.61,0.52)(35.635,-0.30)(35.66,0.40)(35.685,-0.44)(35.71,0.60)
(35.735,0.44)(35.76,-0.40)(35.785,0.55)(35.81,-0.33)(35.835,0.30)(35.86,-0.48)
(35.885,-0.38)(35.91,0.50)(35.935,-0.27)(35.96,0.36)(35.985,-0.45)(36.01,0.58)
};
% CNV region
\addplot[fill=cnvpink, fill opacity=0.5, draw=none] coordinates {(29.617,0.01)(32.567,0.01)(32.567,-0.99)(29.617,-0.99)} --cycle;
% segment line
\addplot[segline, line width=1.2bp, mark=none] coordinates {
(23.915,-0.02)(24.4,0.0)(24.9,-0.03)(25.4,0.02)(25.9,-0.01)(26.4,-0.02)(26.9,0.0)(27.4,-0.04)(27.9,0.02)(28.4,0.03)(28.9,0.02)(29.28,0.0)(29.46,-0.26)(29.65,-0.6)(29.84,-0.88)(30.05,-0.96)(30.23,-0.99)(30.5,-0.95)(30.8,-0.98)(31.1,-0.94)(31.4,-0.97)(31.7,-1.0)(32.0,-0.97)(32.25,-0.95)(32.44,-0.87)(32.6,-0.45)(32.75,-0.08)(32.82,0.03)(33.3,0.02)(33.8,0.0)(34.3,0.04)(34.8,0.06)(35.3,0.08)(35.8,0.1)(36.04,0.1)};
\end{axis}
% ruler
\begin{axis}[
  at={(28bp,30bp)}, anchor=south west, scale only axis,
  width=849bp, height=1bp,
  xmin=24, xmax=36.04, ymin=0, ymax=1,
  axis x line=bottom, hide y axis,
  x axis line style={-, line width=1bp, black!75},
  xtick={24,26,...,36},
  xticklabels={24 Mb,26 Mb,28 Mb,30 Mb,32 Mb,34 Mb,36 Mb},
  tick align=outside, major tick length=10bp,
  xtick style={line width=1.6bp, black},
  xticklabel style={anchor=north west, font=\fontsize{8.5}{10}\selectfont, inner xsep=0pt},
]
\addplot[draw=none] coordinates {(24,0)};
\end{axis}
\draw[black!75, line width=0.8bp] (10.5bp,39bp) -- (10.5bp,320bp);
\draw[black!45, line width=1.5bp] (10bp,39bp) -- (877bp,39bp);
\end{tikzpicture}
\end{document}
